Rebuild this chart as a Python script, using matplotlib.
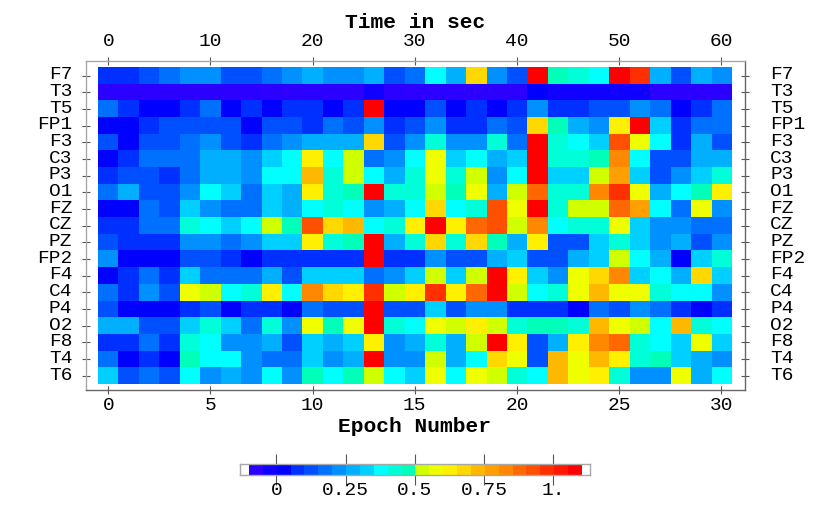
import matplotlib
matplotlib.use('Agg')
import matplotlib.pyplot as plt
from matplotlib.colors import ListedColormap, BoundaryNorm
from matplotlib.transforms import ScaledTranslation
import numpy as np

channels = ['F7', 'T3', 'T5', 'FP1', 'F3', 'C3', 'P3', 'O1', 'FZ', 'CZ',
            'PZ', 'FP2', 'F4', 'C4', 'P4', 'O2', 'F8', 'T4', 'T6']
epoch_ticks = [0, 5, 10, 15, 20, 25, 30]
time_labels = [0, 10, 20, 30, 40, 50, 60]
bar_ticks = [0, 0.25, 0.5, 0.75, 1]
bar_labels = ['0', '0.25', '0.5', '0.75', '1.']

F7 = [.08, .06, .12, .17, .2, .2, .14, .12, .18, .22, .25, .22, .2, .28, .14, .18, .37, .25, .68, .22, .14, 1.07, .47, .42, .35, 1.07, .97, .28, .12, .25, .22]
T3 = [-.06, -.06, -.06, -.06, -.06, -.06, -.06, -.06, -.06, -.06, -.06, -.06, -.06, -.02, -.06, -.06, -.06, -.06, -.06, -.06, -.06, .02, -.02, -.02, -.02, -.02, -.02, -.06, -.06, -.06, -.06]
T5 = [.17, .05, .03, .01, .08, .15, .01, .05, .01, .05, .09, .01, .05, 1.07, .04, .01, .13, .02, .08, .01, .05, .2, .09, .09, .1, .12, .2, .15, .02, .08, .17]
FP1 = [.03, .04, .07, .1, .12, .14, .1, .03, .1, .1, .09, .15, .11, .2, .09, .1, .21, .09, .07, .17, .12, .65, .47, .26, .24, .62, 1.07, .32, .05, .19, .19]
F3 = [.12, .02, .12, .12, .18, .22, .1, .08, .19, .2, .26, .28, .26, .69, .14, .2, .42, .22, .22, .42, .19, 1.07, .4, .37, .32, .92, .58, .36, .07, .25, .13]
C3 = [.02, .06, .15, .15, .17, .26, .26, .2, .33, .38, .61, .37, .52, .19, .21, .35, .57, .33, .36, .25, .3, 1.07, .41, .4, .46, .82, .37, .11, .13, .25, .27]
P3 = [.05, .13, .12, .09, .16, .25, .26, .2, .35, .38, .7, .43, .53, .37, .27, .42, .56, .42, .53, .23, .37, 1.07, .33, .34, .53, .78, .33, .13, .22, .3, .43]
O1 = [.18, .27, .12, .1, .2, .35, .3, .19, .34, .27, .62, .42, .47, 1.07, .43, .43, .53, .45, .59, .26, .54, .87, .44, .44, .82, .99, .56, .26, .37, .45, .6]
FZ = [.01, .01, .19, .14, .3, .22, .18, .15, .31, .25, .37, .43, .37, .2, .27, .36, .66, .37, .44, .94, .55, 1.07, .44, .53, .53, .88, .75, .37, .17, .56, .24]
CZ = [.08, .05, .18, .16, .42, .38, .33, .35, .53, .46, .93, .66, .7, .37, .43, .62, 1.07, .61, .87, .9, .52, .83, .37, .44, .44, .55, .34, .24, .21, .16, .15]
PZ = [.14, .05, .09, .08, .2, .22, .15, .22, .31, .3, .62, .41, .46, 1.07, .27, .4, .66, .43, .65, .46, .28, .6, .13, .12, .33, .44, .31, .2, .26, .14, .21]
FP2 = [.22, .02, .04, .01, .1, .12, .09, .01, .08, .07, .06, .09, .09, 1.07, .06, .05, .2, .12, .11, .29, .31, .13, .11, .27, .3, .54, .37, .26, .01, .33, .42]
F4 = [0, .06, .16, .05, .33, .19, .19, .16, .25, .14, .3, .34, .33, .19, .2, .31, .53, .31, .54, 1.07, .61, .32, .2, .55, .66, .81, .34, .35, .27, .69, .3]
C4 = [.16, .06, .2, .1, .55, .53, .36, .42, .61, .36, .81, .68, .64, .97, .54, .63, .96, .61, .87, 1.07, .54, .37, .43, .56, .7, .59, .57, .43, .37, .36, .23]
P4 = [.12, .01, .01, .01, .06, .12, .03, .05, .08, .03, .17, .11, .11, 1.07, .11, .12, .33, .11, .2, .2, .08, .08, .06, .03, .17, .12, .2, .16, .09, .04, .07]
O2 = [.25, .28, .14, .12, .32, .4, .32, .17, .41, .22, .58, .47, .58, 1.07, .42, .36, .56, .53, .61, .52, .42, .45, .46, .43, .72, .58, .53, .36, .72, .4, .38]
F8 = [.08, .07, .16, .05, .42, .35, .22, .2, .25, .14, .32, .26, .33, .61, .2, .27, .44, .27, .53, 1.07, .64, .14, .26, .61, .84, .88, .44, .38, .31, .56, .3]
T4 = [.16, .01, .05, .02, .47, .37, .35, .21, .16, .16, .33, .21, .28, 1.07, .2, .24, .54, .26, .38, .66, .55, .14, .7, .58, .73, .64, .42, .46, .32, .29, .23]
T6 = [.32, .12, .17, .14, .38, .21, .25, .22, .36, .2, .45, .35, .45, .53, .38, .34, .58, .38, .55, .53, .42, .36, .7, .58, .62, .41, .23, .23, .55, .28, .38]

rows = [F7, T3, T5, FP1, F3, C3, P3, O1, FZ, CZ, PZ, FP2, F4, C4, P4, O2, F8, T4, T6]

# stepped palette, no green in the middle
colors = ['#2c00ff', '#1000ff', '#0000ff', '#0030ff', '#0050ff', '#0070ff', '#0090ff', '#00b0ff',
          '#00d0ff', '#00ffff', '#00ffd8', '#00ffb8', '#d0ff00', '#f0ff00', '#fff000', '#ffd800',
          '#ffb800', '#ffa000', '#ff8800', '#ff6800', '#ff5000', '#ff3000', '#ff1800', '#ff0000']
levels = np.linspace(-0.1, 1.1, 25) - 0.001
cmap = ListedColormap(colors)
norm = BoundaryNorm(levels, cmap.N)

W, H = 830, 515
LIGHT = '#a8a8a8'
DARK = '#666666'
TICK = '#555555'

plt.rcParams['font.family'] = 'Liberation Mono'
fig = plt.figure(figsize=(W / 100, H / 100), dpi=100)

# axes box in pixels, the cells leave a small white gap to the frame
left, right, top, bottom = 85.5, 745, 61, 390
ax = fig.add_axes([left / W, 1 - bottom / H, (right - left) / W, (bottom - top) / H])
px_x = 20.43
px_y = 16.68
x0 = (left - 108.3) / px_x
x1 = (right - 108.3) / px_x
y0 = (top - 75.6) / px_y
y1 = (bottom - 75.6) / px_y

data = np.array(rows)
ax.imshow(data, cmap=cmap, norm=norm, aspect='auto', interpolation='nearest',
          extent=[-0.5, 30.5, 18.5, -0.5])
ax.set_xlim(x0, x1)
ax.set_ylim(y1, y0)

ax.set_xticks(epoch_ticks)
ax.set_yticks(range(len(channels)))
ax.set_yticklabels(channels)
ax.tick_params(axis='both', labelsize=14, length=6, width=0.8, color=TICK, direction='inout')
ax.tick_params(axis='x', pad=2)
ax.tick_params(axis='y', pad=6.5)
ax.tick_params(top=True, right=True)
ax.spines['left'].set_color(LIGHT)
ax.spines['top'].set_color(LIGHT)
ax.spines['right'].set_color(DARK)
ax.spines['bottom'].set_color(DARK)
for s in ax.spines.values():
    s.set_linewidth(1)

fig.text(414.5 / W, 1 - 426.5 / H, 'Epoch Number', fontsize=15.3, fontweight='bold', ha='center', va='center')
fig.text(415 / W, 1 - 22 / H, 'Time in sec', fontsize=15.3, fontweight='bold', ha='center', va='center')

ax_top = ax.secondary_xaxis('top')
ax_top.set_xticks(epoch_ticks)
ax_top.set_xticklabels(time_labels)
ax_top.tick_params(labelsize=14, length=0, pad=8)
ax_top.spines['top'].set_visible(False)

ax_right = ax.secondary_yaxis('right')
ax_right.set_yticks(range(len(channels)))
ax_right.set_yticklabels(channels)
ax_right.tick_params(labelsize=14, length=0, pad=18)
ax_right.spines['right'].set_visible(False)

# row labels sit a little above their ticks
lift = ScaledTranslation(0, 2 / 72, fig.dpi_scale_trans)
for label in ax.get_yticklabels() + ax_right.get_yticklabels():
    label.set_transform(label.get_transform() + lift)

# colour bar drawn as its own small axes
bl, br, bt, bb = 240, 590, 464, 475
cax = fig.add_axes([bl / W, 1 - bb / H, (br - bl) / W, (bb - bt) / H])
per_px = 0.25 / 69.25
vmin = (bl - 276.3) * per_px
vmax = (br - 276.3) * per_px
mids = (levels[:-1] + levels[1:]) / 2
cax.imshow(mids[None, :], cmap=cmap, norm=norm, aspect='auto', interpolation='nearest',
           extent=[-0.1, 1.1, 0, 1])
cax.set_xlim(vmin, vmax)
cax.set_ylim(0, 1)
cax.set_yticks([])
cax.set_xticks(bar_ticks)
cax.set_xticklabels(bar_labels)
cax.tick_params(axis='x', labelsize=14, length=7, width=0.8, color=TICK, pad=-2)
cax_top = cax.secondary_xaxis('top')
cax_top.set_xticks(bar_ticks)
cax_top.set_xticklabels([])
cax_top.tick_params(length=7, width=0.8, color=TICK)
cax_top.spines['top'].set_visible(False)
for s in cax.spines.values():
    s.set_color(LIGHT)
    s.set_linewidth(1)

fig.savefig('out.png', dpi=100)
